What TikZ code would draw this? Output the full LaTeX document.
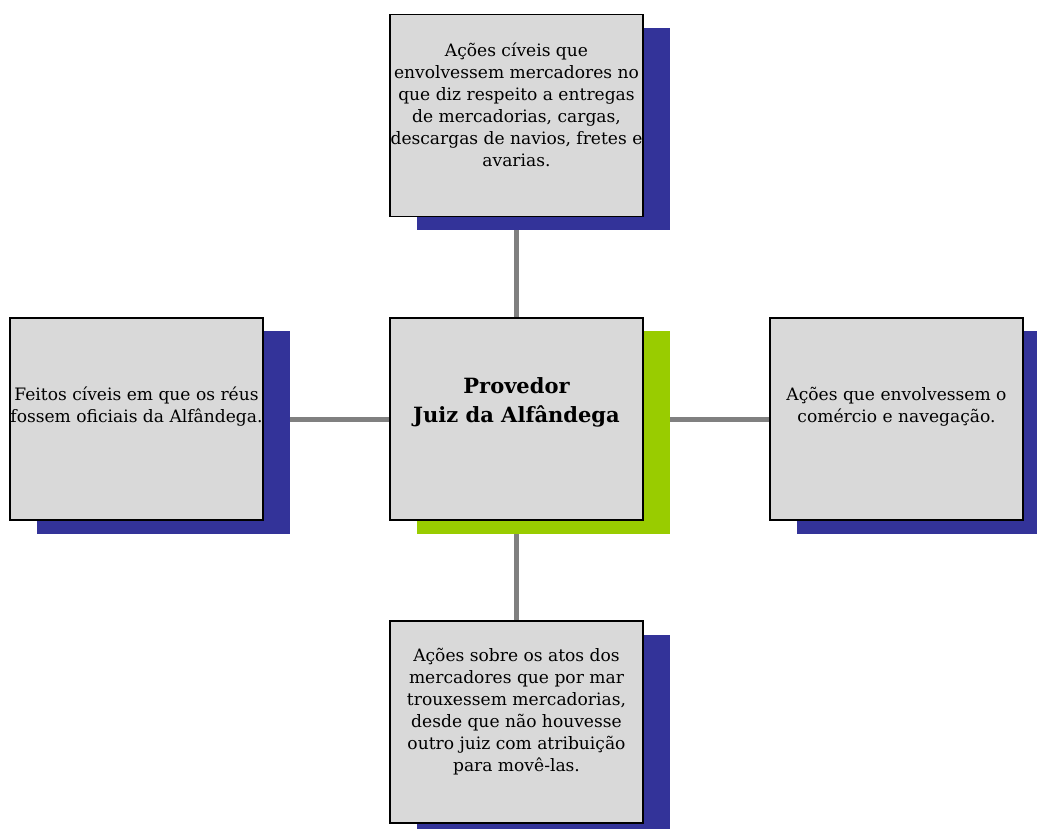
\documentclass[tikz,border=0pt]{standalone}
\usepackage{fontspec}
\setmainfont{DejaVu Serif}
\usetikzlibrary{shadows,backgrounds}
\definecolor{boxgray}{RGB}{217,217,217}
\definecolor{shblue}{RGB}{51,51,153}
\definecolor{shgreen}{RGB}{153,204,0}
\definecolor{linkgray}{RGB}{128,128,128}
\tikzset{
  card/.style={draw=black, line width=1.5pt, fill=boxgray, minimum width=253pt, minimum height=202pt, inner sep=0pt},
  bluecard/.style={card, copy shadow={shadow xshift=27pt, shadow yshift=-13.5pt, fill=shblue, draw=none}},
  greencard/.style={card, copy shadow={shadow xshift=27pt, shadow yshift=-13.5pt, fill=shgreen, draw=none}},
  txt/.style={align=center, inner sep=0pt, font=\fontsize{17.1}{22}\selectfont, text=black},
  hubtxt/.style={align=center, inner sep=0pt, font=\bfseries\fontsize{21}{29}\selectfont, text=black},
  link/.style={draw=linkgray, line width=5pt}
}
\begin{document}
\begin{tikzpicture}[x=1pt,y=-1pt]
\useasboundingbox (0,0) rectangle (1037,829);
\clip (0,0) rectangle (1037,829);
\node[bluecard] (top) at (516.5,115.5) {};
\node[greencard] (hub) at (516.5,419) {};
\node[bluecard] (left) at (136.5,419) {};
\node[bluecard] (right) at (896.5,419) {};
\node[bluecard] (bottom) at (516.5,722) {};
\node[txt] (ttop) at (516.5,104.7) {Ações cíveis que\\envolvessem mercadores no\\que diz respeito a entregas\\de mercadorias, cargas,\\descargas de navios, fretes e\\avarias.};
\node[hubtxt] (thub) at (516.5,402.8) {Provedor\\Juiz da Alfândega};
\node[txt] (tleft) at (136.5,407) {Feitos cíveis em que os réus\\fossem oficiais da Alfândega.};
\node[txt] (tright) at (896.5,406.5) {Ações que envolvessem o\\comércio e navegação.};
\node[txt] (tbottom) at (516.5,711.3) {Ações sobre os atos dos\\mercadores que por mar\\trouxessem mercadorias,\\desde que não houvesse\\outro juiz com atribuição\\para movê-las.};
\begin{scope}[on background layer]
\draw[link] (hub.center) -- (top.center);
\draw[link] (hub.center) -- (bottom.center);
\draw[link] (hub.center) -- (left.center);
\draw[link] (hub.center) -- (right.center);
\end{scope}
\end{tikzpicture}
\end{document}
